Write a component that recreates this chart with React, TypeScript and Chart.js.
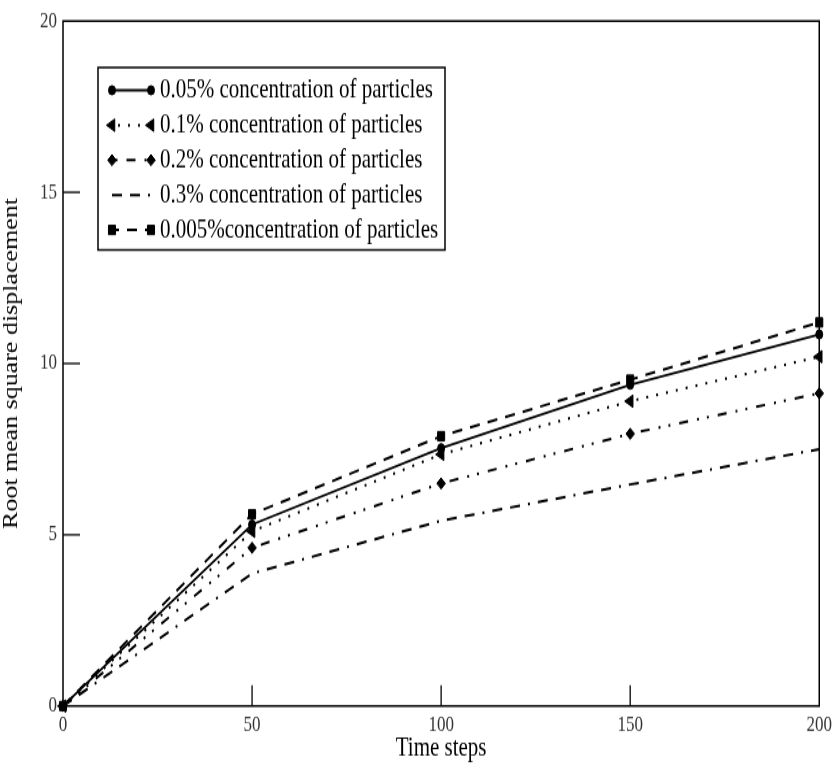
import React, { useEffect, useRef } from 'react';
import { Chart, registerables } from 'chart.js';
import { drawPoint } from 'chart.js/helpers';

Chart.register(...registerables);

// ---- data ----
const timeSteps = [0, 50, 100, 150, 200];
const seriesLabels = [
  '0.05% concentration of particles',
  '0.1% concentration of particles',
  '0.2% concentration of particles',
  '0.3% concentration of particles',
  '0.005%concentration of particles',
];
const conc005 = [0, 5.3, 7.53, 9.38, 10.85];
const conc01 = [0, 5.1, 7.35, 8.9, 10.2];
const conc02 = [0, 4.62, 6.5, 7.95, 9.13];
const conc03 = [0, 3.87, 5.41, 6.47, 7.5];
const conc0005 = [0, 5.6, 7.88, 9.53, 11.2];
const xTickValues = [0, 50, 100, 150, 200];
const yTickValues = [0, 5, 10, 15, 20];
const xTitle = 'Time steps';
const yTitle = 'Root mean square displacement';

const W = 837;
const H = 590; // drawn height; displayed stretched to 766
const SERIF = '"Liberation Serif", "Times New Roman", serif';

const toPts = (ys: number[]) => ys.map((y, i) => ({ x: timeSteps[i], y }));

const legendDashOffsets = [0, 4, 24.5, 0, 3];

const framePlugin = {
  id: 'frameTicks',
  beforeDatasetsDraw(chart: any) {
    const { ctx, chartArea: a, scales } = chart;
    ctx.save();
    ctx.setLineDash([]);
    ctx.strokeStyle = '#000';
    ctx.lineWidth = 1.5;
    ctx.strokeRect(a.left, a.top, a.right - a.left, a.bottom - a.top);
    ctx.lineWidth = 1.3;
    scales.x.ticks.forEach((t: any) => {
      const px = scales.x.getPixelForValue(t.value);
      if (px > a.left + 1 && px < a.right - 1) {
        ctx.beginPath();
        ctx.moveTo(px, a.bottom);
        ctx.lineTo(px, a.bottom - 16);
        ctx.stroke();
      }
    });
    scales.y.ticks.forEach((t: any) => {
      const py = scales.y.getPixelForValue(t.value);
      if (py > a.top + 1 && py < a.bottom - 1) {
        ctx.beginPath();
        ctx.moveTo(a.left, py);
        ctx.lineTo(a.left + 17, py);
        ctx.stroke();
      }
    });
    ctx.restore();
  },
};

const legendPlugin = {
  id: 'boxLegend',
  afterDatasetsDraw(chart: any) {
    const { ctx } = chart;
    const box = { l: 98, t: 52, r: 445, b: 192.5 };
    ctx.save();
    ctx.setLineDash([]);
    ctx.fillStyle = '#fff';
    ctx.fillRect(box.l, box.t, box.r - box.l, box.b - box.t);
    ctx.strokeStyle = '#000';
    ctx.lineWidth = 1.5;
    ctx.strokeRect(box.l, box.t, box.r - box.l, box.b - box.t);
    const x1 = 112;
    const x2 = 151;
    chart.data.datasets.forEach((ds: any, i: number) => {
      const y = 69.5 + i * 26.9;
      ctx.strokeStyle = '#000';
      ctx.fillStyle = '#000';
      ctx.lineWidth = ds.borderWidth;
      ctx.setLineDash(ds.borderDash || []);
      ctx.lineDashOffset = legendDashOffsets[i] || 0;
      ctx.beginPath();
      ctx.moveTo(x1, y);
      ctx.lineTo(x2, y);
      ctx.stroke();
      ctx.setLineDash([]);
      ctx.lineDashOffset = 0;
      if (ds.pointRadius > 0) {
        const opts = {
          pointStyle: ds.pointStyle,
          rotation: ds.pointRotation || 0,
          radius: ds.pointRadius,
          borderWidth: 1,
        };
        ctx.lineWidth = 1;
        drawPoint(ctx, opts as any, x1, y);
        drawPoint(ctx, opts as any, x2, y);
      }
      ctx.fillStyle = '#000';
      ctx.font = `21px ${SERIF}`;
      ctx.textBaseline = 'middle';
      ctx.textAlign = 'left';
      ctx.fillText(ds.label, 160, y);
    });
    ctx.restore();
  },
};

export default function App() {
  const ref = useRef<HTMLCanvasElement | null>(null);

  useEffect(() => {
    document.body.style.margin = '0';
    const canvas = ref.current;
    if (!canvas) return;
    const common = {
      borderColor: '#000',
      backgroundColor: '#000',
      pointBackgroundColor: '#000',
      pointBorderColor: '#000',
      pointBorderWidth: 1,
      fill: false,
      tension: 0,
      clip: false as any,
    };
    const chart = new Chart(canvas, {
      type: 'line',
      data: {
        datasets: [
          {
            ...common,
            label: seriesLabels[0],
            data: toPts(conc005),
            borderWidth: 1.8,
            borderDash: [],
            pointStyle: 'circle',
            pointRadius: 3.5,
          },
          {
            ...common,
            label: seriesLabels[1],
            data: toPts(conc01),
            borderWidth: 2,
            borderDash: [2, 8],
            pointStyle: 'triangle',
            pointRotation: -90,
            pointRadius: 5.5,
          },
          {
            ...common,
            label: seriesLabels[2],
            data: toPts(conc02),
            borderWidth: 2,
            borderDash: [9, 9, 2, 8, 2, 9],
            pointStyle: 'rectRot',
            pointRadius: 4.3,
          },
          {
            ...common,
            label: seriesLabels[3],
            data: toPts(conc03),
            borderWidth: 2,
            borderDash: [10, 8, 10, 8, 2, 8],
            pointRadius: 0,
          },
          {
            ...common,
            label: seriesLabels[4],
            data: toPts(conc0005),
            borderWidth: 2,
            borderDash: [10, 8],
            pointStyle: 'rect',
            pointRadius: 5,
          },
        ] as any,
      },
      options: {
        responsive: false,
        maintainAspectRatio: false,
        devicePixelRatio: 1,
        animation: false,
        layout: { padding: { left: 0, right: 15, top: 13.9, bottom: 0 } },
        plugins: {
          legend: { display: false },
          tooltip: { enabled: false },
          title: { display: false },
        },
        scales: {
          x: {
            type: 'linear',
            min: 0,
            max: 200,
            afterBuildTicks: (s: any) => {
              s.ticks = xTickValues.map((v) => ({ value: v }));
            },
            afterFit: (s: any) => {
              s.height = H - 543.8;
            },
            grid: { display: false, drawTicks: false },
            border: { display: false },
            ticks: {
              padding: 5,
              color: '#333',
              font: { family: SERIF, size: 17 },
              maxRotation: 0,
            },
            title: {
              display: true,
              text: xTitle,
              color: '#000',
              font: { family: SERIF, size: 21 },
              padding: { top: 0, bottom: 1 },
            },
          },
          y: {
            type: 'linear',
            min: 0,
            max: 20,
            afterBuildTicks: (s: any) => {
              s.ticks = yTickValues.map((v) => ({ value: v }));
            },
            afterFit: (s: any) => {
              s.width = 63;
            },
            grid: { display: false, drawTicks: false },
            border: { display: false },
            ticks: {
              padding: 6,
              color: '#333',
              font: { family: SERIF, size: 17 },
            },
            title: {
              display: true,
              text: yTitle,
              color: '#000',
              font: { family: SERIF, size: 20 },
              padding: { top: 0, bottom: 0 },
            },
          },
        },
      } as any,
      plugins: [framePlugin, legendPlugin],
    });
    return () => chart.destroy();
  }, []);

  return (
    <div style={{ position: 'absolute', left: 0, top: 0, width: W, height: 766 }}>
      <canvas
        ref={ref}
        width={W}
        height={H}
        style={{ width: `${W}px`, height: '766px', display: 'block' }}
      />
    </div>
  );
}
